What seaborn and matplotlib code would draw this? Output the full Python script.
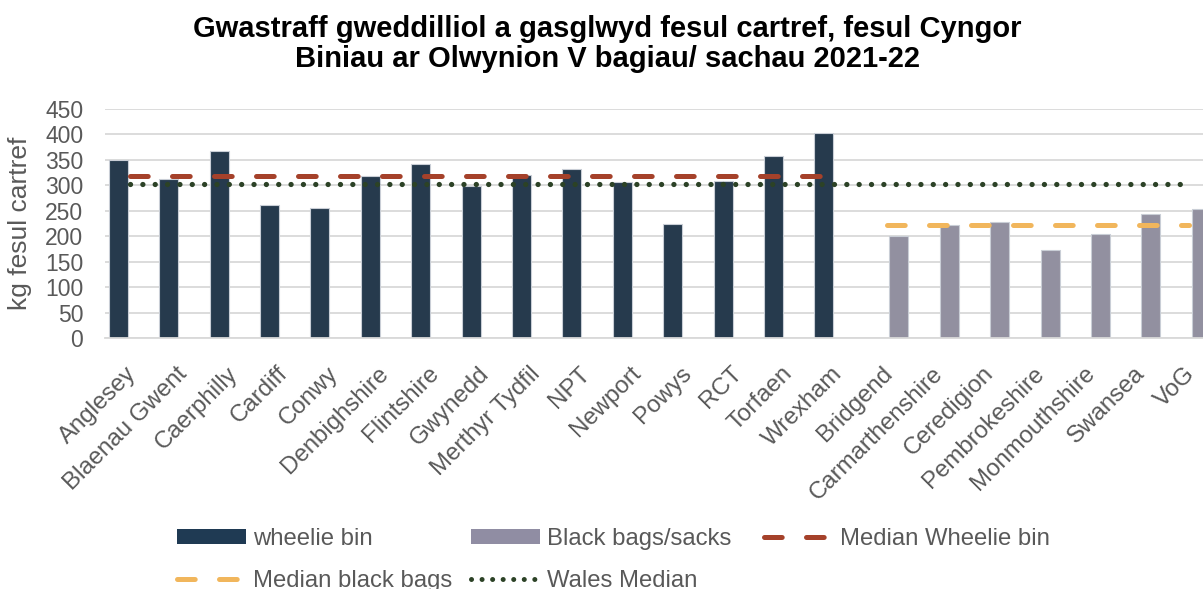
import matplotlib
matplotlib.use('Agg')
import matplotlib.pyplot as plt
import matplotlib.transforms as mtransforms
from matplotlib.patches import Patch
from matplotlib.lines import Line2D
import seaborn as sns
import pandas as pd
import numpy as np

# ---- data ----
wheelie_councils = ['Anglesey', 'Blaenau Gwent', 'Caerphilly', 'Cardiff', 'Conwy',
                    'Denbighshire', 'Flintshire', 'Gwynedd', 'Merthyr Tydfil', 'NPT',
                    'Newport', 'Powys', 'RCT', 'Torfaen', 'Wrexham']
wheelie_values = [349, 312, 368, 262, 255, 318, 342, 299, 321, 332, 306, 225, 309, 358, 403]
bag_councils = ['Bridgend', 'Carmarthenshire', 'Ceredigion', 'Pembrokeshire',
                'Monmouthshire', 'Swansea', 'VoG']
bag_values = [201, 222, 228, 173, 204, 243, 253]
median_wheelie = 319
median_bags = 223
wales_median = 303
series_names = ['wheelie bin', 'Black bags/sacks']
line_names = ['Median Wheelie bin', 'Median black bags', 'Wales Median']
title = ('Gwastraff gweddilliol a gasglwyd fesul cartref, fesul Cyngor\n'
         'Biniau ar Olwynion V bagiau/ sachau 2021-22')
ylabel = 'kg fesul cartref'
yticks = [0, 50, 100, 150, 200, 250, 300, 350, 400, 450]

# ---- style ----
C_WHEELIE = '#1f3a53'
C_BAGS = '#908da3'
C_MED_W = '#a5412a'
C_MED_B = '#f1b65c'
C_WALES = '#2c4226'
C_TEXT = '#595959'
C_GRID = '#d9d9d9'

sns.set_style('white')
plt.rcParams['font.family'] = ['Liberation Sans', 'DejaVu Sans']

councils = wheelie_councils + bag_councils
df = pd.DataFrame({
    'council': councils,
    'value': wheelie_values + bag_values,
    'type': [series_names[0]] * len(wheelie_councils) + [series_names[1]] * len(bag_councils),
})

fig = plt.figure(figsize=(12.03, 5.89), dpi=100)
ax = fig.add_axes([0.0875, 0.4257, 0.9219, 0.3893])

sns.barplot(data=df, x='council', y='value', hue='type', order=councils,
            hue_order=series_names,
            palette={series_names[0]: C_WHEELIE, series_names[1]: C_BAGS},
            width=0.972, gap=0.224, dodge=True, errorbar=None,
            edgecolor='#c9ced6', linewidth=0.8, legend=False, ax=ax)

x_w = np.arange(len(wheelie_councils))
x_b = np.arange(len(wheelie_councils), len(councils))
x_all = np.arange(len(councils))

dash_style = (0, (3.54, 4.86))
dot_style = (0, (0.01, 2.33))
ax.plot(x_w, [median_wheelie] * len(x_w), color=C_MED_W, lw=3.6,
        linestyle=dash_style, dash_capstyle='round', zorder=4)
ax.plot(x_b, [median_bags] * len(x_b), color=C_MED_B, lw=3.6,
        linestyle=dash_style, dash_capstyle='round', zorder=4)
ax.plot(x_all, [wales_median] * len(x_all), color=C_WALES, lw=3.8,
        linestyle=dot_style, dash_capstyle='round', zorder=5)

ax.set_xlim(-0.5, len(councils) - 0.5)
ax.set_ylim(0, 450)
ax.set_yticks(yticks)
ax.yaxis.grid(True, color=C_GRID, lw=1.3)
ax.set_axisbelow(True)
for s in ['top', 'right', 'left']:
    ax.spines[s].set_visible(False)
ax.spines['bottom'].set_color(C_GRID)
ax.spines['bottom'].set_linewidth(1.3)

ax.set_xlabel('')
ax.set_xticks(x_all)
ax.set_xticklabels(councils, rotation=45, ha='right', va='top',
                   rotation_mode='anchor', fontsize=17.3, color=C_TEXT)
ax.tick_params(axis='x', length=0, pad=17.5)
offset = mtransforms.ScaledTranslation(-5 / 100, 0, fig.dpi_scale_trans)
for lab in ax.get_xticklabels():
    lab.set_transform(lab.get_transform() + offset)

ax.tick_params(axis='y', length=0, pad=15.8, labelsize=16.5, labelcolor=C_TEXT)
ax.set_ylabel(ylabel, fontsize=19, color=C_TEXT)
ax.yaxis.set_label_coords(-0.0661, 0.5)

fig.text(0.5046, 1 - 44 / 589, title, ha='center', va='center', fontsize=21,
         fontweight='bold', color='black', linespacing=1.05)

# ---- legend (three columns, row-major like the original) ----
h_wheelie = Patch(facecolor=C_WHEELIE, edgecolor='none')
h_bags = Patch(facecolor=C_BAGS, edgecolor='none')
h_med_w = Line2D([], [], color=C_MED_W, lw=3.6, linestyle=dash_style, dash_capstyle='round')
h_med_b = Line2D([], [], color=C_MED_B, lw=3.6, linestyle=dash_style, dash_capstyle='round')
h_wales = Line2D([], [], color=C_WALES, lw=3.6, linestyle=(0, (0.01, 2.1)), dash_capstyle='round')

leg_kw = dict(frameon=False, fontsize=17.2, labelcolor=C_TEXT, handlelength=2.88,
              handleheight=0.55, handletextpad=0.3, labelspacing=0.85,
              borderpad=0, borderaxespad=0, loc='upper left')
cols = [([h_wheelie, h_med_b], [series_names[0], line_names[1]], 177),
        ([h_bags, h_wales], [series_names[1], line_names[2]], 470.7),
        ([h_med_w], [line_names[0]], 764)]
for handles, labels, xpx in cols:
    fig.legend(handles, labels, bbox_to_anchor=(xpx / 1203, 1 - 528 / 589),
               bbox_transform=fig.transFigure, **leg_kw)

fig.savefig('out.png', dpi=100)
